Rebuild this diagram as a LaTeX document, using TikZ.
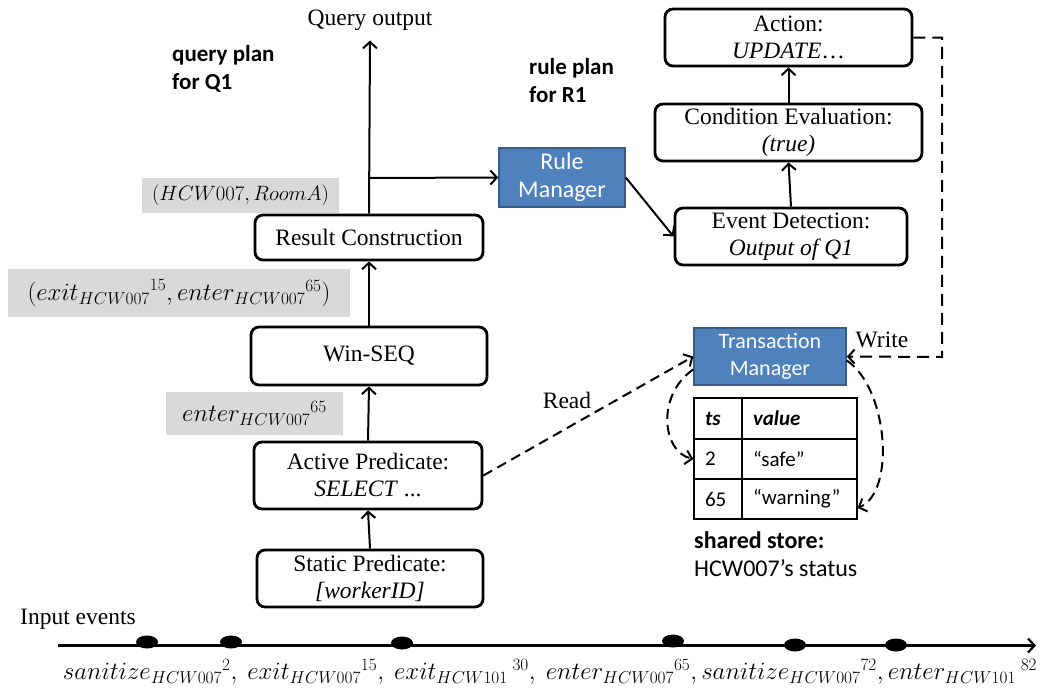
\documentclass[tikz,border=0pt]{standalone}
\usepackage{fontspec}
\setmainfont{Liberation Serif}
\newfontfamily\calibri{Carlito}
\usetikzlibrary{arrows.meta,shapes.geometric}
\definecolor{boxblue}{HTML}{4F81BD}
\definecolor{boxblueedge}{HTML}{385D8A}
\definecolor{labelgray}{HTML}{D9D9D9}
\begin{document}
\begin{tikzpicture}[x=1pt,y=-1pt,
  opbox/.style={draw, line width=2.8pt, rounded corners=8pt, align=center,
    font=\fontsize{23.5}{27}\selectfont, inner sep=0pt},
  mgr/.style={draw=boxblueedge, line width=1.5pt, fill=boxblue, text=white, align=center,
    font=\calibri\fontsize{22}{27}\selectfont, inner sep=0pt},
  glabel/.style={fill=labelgray, inner sep=0pt},
  serif/.style={font=\fontsize{23.5}{27}\selectfont, inner sep=0pt},
  sans/.style={font=\calibri\fontsize{23}{28}\selectfont, inner sep=0pt, align=left},
  arr/.style={line width=2pt, -{Straight Barb[length=6.5pt,width=14pt]}},
  darr/.style={arr, dash pattern=on 10pt off 6pt},
  cell/.style={draw, line width=1.3pt, inner xsep=11pt, inner ysep=0pt, align=left,
    font=\calibri\fontsize{21}{24}\selectfont},
  dot/.style={ellipse, fill, minimum width=22pt, minimum height=13pt, inner sep=0pt},
  mathlbl/.style={font=\fontsize{21}{25}\selectfont}
]
\useasboundingbox (0,0) rectangle (1040,689);

% query plan
\node[serif] (qo) at (370,20) {Query output};
\node[opbox, minimum width=228pt, minimum height=45pt] (rc) at (369,237.5) {Result Construction};
\node[opbox, minimum width=236pt, minimum height=58pt] (ws) at (369,356) {Win-SEQ};
\node[opbox, minimum width=228pt, minimum height=67pt] (ap) at (368,475.5) {Active Predicate:\\\textit{SELECT} ...};
\node[opbox, minimum width=226pt, minimum height=57pt] (sp) at (370,578.5) {Static Predicate:\\\textit{[workerID]}};

\node[sans, anchor=north west] (qp) at (172,45) {\bfseries query plan\\\bfseries for Q1};
\node[sans, anchor=north west] (rp) at (529,58) {\bfseries rule plan\\\bfseries for R1};

% gray labels
\node[glabel, minimum width=197pt, minimum height=35pt, mathlbl] (g1) at (240.5,195.5) {$(HCW007, RoomA)$};
\node[glabel, minimum width=342pt, minimum height=48pt, font=\fontsize{25}{29}\selectfont] (g2) at (179,293) {$({exit_{HCW007}}^{15}, {enter_{HCW007}}^{65})$};
\node[glabel, minimum width=177pt, minimum height=43pt, font=\fontsize{23.5}{27}\selectfont] (g3) at (254.5,413.5) {${enter_{HCW007}}^{65}$};

% rule plan
\node[mgr, minimum width=126pt, minimum height=59pt, font=\calibri\fontsize{24}{28}\selectfont] (rm) at (562,177.5) {Rule\\Manager};
\node[opbox, minimum width=247pt, minimum height=57pt] (act) at (788.5,37.5) {Action:\\\textit{UPDATE}\ldots};
\node[opbox, minimum width=267pt, minimum height=57pt] (ce) at (788.5,132.5) {Condition Evaluation:\\\textit{(true)}};
\node[opbox, minimum width=232pt, minimum height=57pt] (ed) at (791,236.5) {Event Detection:\\\textit{Output of Q1}};

% transaction manager and store
\node[mgr, minimum width=152pt, minimum height=57pt] (tm) at (770,356.5) {Transaction\\Manager};
\node[cell, text width=26pt, minimum height=41pt] (h1) at (718,418.5) {\bfseries\itshape ts};
\node[cell, text width=93pt, minimum height=41pt] (h2) at (799.5,418.5) {\bfseries\itshape value};
\node[cell, text width=26pt, minimum height=40pt] (r2a) at (718,459) {2};
\node[cell, text width=93pt, minimum height=40pt] (r2b) at (799.5,459) {“safe”};
\node[cell, text width=26pt, minimum height=40pt] (r3a) at (718,499) {65};
\node[cell, text width=93pt, minimum height=40pt] (r3b) at (799.5,499) {“warning”};
\node[sans, anchor=north west, font=\calibri\fontsize{24}{28}\selectfont] (ss) at (694,531) {\bfseries shared store:\\HCW007’s status};

% connectors
\coordinate (br) at (369,178);
\draw[arr] (rc.north) -- ([yshift=-10pt]qo.south);
\draw[arr] (br) -- (rm.west);
\draw[arr] (ws.north) -- (rc.south);
\draw[arr] (ap.north) -- (ws.south);
\draw[arr] (sp.north) -- (ap.south);
\draw[arr] (rm.east) -- (ed.west);
\draw[arr] (ed.north) -- (ce.south);
\draw[arr] (ce.north) -- (act.south);

\draw[darr] (ap.east) -- (tm.west);
\node[serif] (rd) at (567,400) {Read};
\coordinate (wc) at (942,357);
\draw[arr, dash pattern=on 12pt off 7pt] (act.east) -| (wc) -- (tm.east);
\node[serif] (wr) at (882,340) {Write};
\draw[darr] ([yshift=-13pt]tm.west) .. controls (656,395) and (662,452) .. (r2a.west);
\draw[darr] ([yshift=-4pt]tm.east) .. controls (888,388) and (896,492) .. ([yshift=-9pt]r3b.east);

% timeline
\node[serif, anchor=west] (ie) at (20,619) {Input events};
\coordinate (t0) at (58,645.5);
\coordinate (t1) at (1036,645.5);
\draw[arr, line width=2.2pt] (t0) -- (t1);
\node[dot] (e1) at (147,642) {};
\node[dot] (e2) at (231,642) {};
\node[dot] (e3) at (402,643) {};
\node[dot] (e4) at (673,641) {};
\node[dot] (e5) at (795,645) {};
\node[dot] (e6) at (896,645) {};
\node[font=\fontsize{24}{28}\selectfont, inner sep=0pt] (ev) at (550,672) {$ {sanitize_{HCW007}}^{2},\ {exit_{HCW007}}^{15},\ {exit_{HCW101}}^{\;30},\ {enter_{HCW007}}^{65}, {sanitize_{HCW007}}^{72}, {enter_{HCW101}}^{\;82}$};
\end{tikzpicture}
\end{document}
